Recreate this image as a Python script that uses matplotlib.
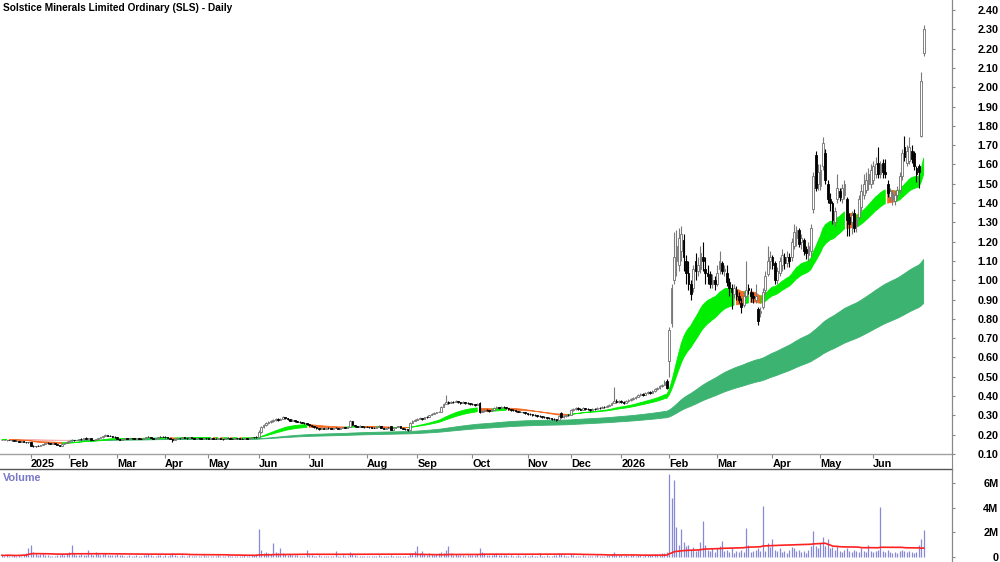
import numpy as np
import pandas as pd
import matplotlib
matplotlib.use("Agg")
import matplotlib.pyplot as plt
from matplotlib.lines import Line2D

# ── Data: one row per trading day (open, high, low, close, volume in millions) ──

dec24 = [
    (0.170, 0.175, 0.170, 0.175, 0.15), (0.175, 0.175, 0.170, 0.170, 0.10),
    (0.170, 0.175, 0.165, 0.175, 0.20), (0.175, 0.175, 0.170, 0.170, 0.12),
    (0.170, 0.170, 0.165, 0.170, 0.08), (0.170, 0.170, 0.165, 0.165, 0.15),
    (0.165, 0.170, 0.165, 0.165, 0.10), (0.165, 0.165, 0.160, 0.160, 0.18),
    (0.160, 0.165, 0.160, 0.165, 0.12), (0.165, 0.165, 0.160, 0.160, 0.20),
    (0.160, 0.160, 0.155, 0.160, 0.35), (0.160, 0.160, 0.155, 0.160, 0.70),
]
jan25 = [
    (0.160, 0.160, 0.140, 0.140, 1.00), (0.140, 0.145, 0.135, 0.140, 0.45),
    (0.140, 0.140, 0.135, 0.140, 0.30), (0.140, 0.145, 0.140, 0.140, 0.20),
    (0.140, 0.145, 0.140, 0.145, 0.25), (0.145, 0.150, 0.145, 0.150, 0.30),
    (0.150, 0.155, 0.150, 0.155, 0.15), (0.155, 0.160, 0.150, 0.155, 0.20),
    (0.155, 0.155, 0.150, 0.150, 0.10), (0.150, 0.155, 0.150, 0.155, 0.12),
    (0.155, 0.155, 0.150, 0.150, 0.08), (0.150, 0.150, 0.145, 0.145, 0.15),
    (0.145, 0.145, 0.140, 0.140, 0.20), (0.140, 0.150, 0.140, 0.150, 0.25),
    (0.150, 0.155, 0.150, 0.155, 0.18), (0.155, 0.165, 0.155, 0.160, 0.30),
]
feb25 = [
    (0.160, 0.165, 0.160, 0.165, 0.40), (0.165, 0.180, 0.165, 0.175, 1.00),
    (0.175, 0.175, 0.165, 0.170, 0.30), (0.170, 0.175, 0.170, 0.175, 0.20),
    (0.175, 0.180, 0.175, 0.180, 0.15), (0.180, 0.185, 0.175, 0.180, 0.25),
    (0.180, 0.185, 0.180, 0.185, 0.20), (0.185, 0.190, 0.180, 0.180, 0.15),
    (0.180, 0.185, 0.180, 0.185, 0.60), (0.185, 0.185, 0.175, 0.175, 0.25),
    (0.175, 0.175, 0.170, 0.170, 0.20), (0.170, 0.180, 0.170, 0.180, 0.40),
    (0.180, 0.185, 0.180, 0.185, 0.30), (0.185, 0.190, 0.185, 0.190, 0.20),
    (0.190, 0.195, 0.185, 0.195, 0.25), (0.195, 0.205, 0.195, 0.200, 0.30),
    (0.200, 0.200, 0.195, 0.195, 0.20), (0.195, 0.200, 0.195, 0.195, 0.15),
    (0.195, 0.195, 0.190, 0.190, 0.20), (0.190, 0.195, 0.185, 0.190, 0.15),
]
mar25 = [
    (0.190, 0.190, 0.180, 0.180, 0.25), (0.180, 0.180, 0.175, 0.175, 0.20),
    (0.175, 0.180, 0.175, 0.180, 0.15), (0.180, 0.185, 0.180, 0.185, 0.12),
    (0.185, 0.185, 0.180, 0.180, 0.10), (0.180, 0.185, 0.180, 0.185, 0.15),
    (0.185, 0.185, 0.180, 0.185, 0.10), (0.185, 0.185, 0.180, 0.180, 0.12),
    (0.180, 0.185, 0.180, 0.185, 0.20), (0.185, 0.185, 0.180, 0.180, 0.10),
    (0.180, 0.185, 0.180, 0.180, 0.12), (0.180, 0.185, 0.180, 0.185, 0.15),
    (0.185, 0.190, 0.185, 0.190, 0.20), (0.190, 0.195, 0.190, 0.190, 0.25),
    (0.190, 0.190, 0.185, 0.185, 0.15), (0.185, 0.185, 0.180, 0.180, 0.10),
    (0.180, 0.185, 0.180, 0.185, 0.12), (0.185, 0.190, 0.185, 0.190, 0.20),
    (0.190, 0.195, 0.190, 0.190, 0.15), (0.190, 0.195, 0.190, 0.190, 0.10),
]
apr25 = [
    (0.190, 0.195, 0.185, 0.190, 0.15), (0.190, 0.190, 0.185, 0.185, 0.12),
    (0.185, 0.185, 0.180, 0.180, 0.20), (0.180, 0.180, 0.160, 0.170, 0.30),
    (0.170, 0.180, 0.170, 0.180, 0.15), (0.180, 0.185, 0.180, 0.185, 0.12),
    (0.185, 0.185, 0.180, 0.185, 0.10), (0.185, 0.190, 0.185, 0.190, 0.15),
    (0.190, 0.190, 0.185, 0.185, 0.10), (0.185, 0.185, 0.180, 0.185, 0.12),
    (0.185, 0.190, 0.185, 0.190, 0.15), (0.190, 0.190, 0.185, 0.185, 0.10),
    (0.185, 0.185, 0.180, 0.180, 0.08), (0.180, 0.185, 0.180, 0.185, 0.10),
    (0.185, 0.185, 0.180, 0.185, 0.12), (0.185, 0.185, 0.180, 0.180, 0.10),
    (0.180, 0.185, 0.180, 0.185, 0.15), (0.185, 0.185, 0.180, 0.185, 0.08),
]
may25 = [
    (0.185, 0.185, 0.180, 0.180, 0.10), (0.180, 0.185, 0.180, 0.185, 0.08),
    (0.185, 0.185, 0.180, 0.180, 0.12), (0.180, 0.185, 0.180, 0.180, 0.10),
    (0.180, 0.185, 0.180, 0.185, 0.15), (0.185, 0.185, 0.180, 0.180, 0.08),
    (0.180, 0.180, 0.175, 0.180, 0.10), (0.180, 0.185, 0.180, 0.185, 0.12),
    (0.185, 0.190, 0.185, 0.185, 0.15), (0.185, 0.185, 0.180, 0.180, 0.10),
    (0.180, 0.185, 0.180, 0.180, 0.08), (0.180, 0.185, 0.180, 0.185, 0.10),
    (0.185, 0.185, 0.180, 0.185, 0.12), (0.185, 0.185, 0.180, 0.180, 0.08),
    (0.180, 0.185, 0.180, 0.180, 0.10), (0.180, 0.185, 0.180, 0.185, 0.15),
    (0.185, 0.185, 0.180, 0.180, 0.10), (0.180, 0.185, 0.180, 0.185, 0.12),
    (0.185, 0.190, 0.185, 0.190, 0.20), (0.190, 0.190, 0.185, 0.190, 0.15),
    (0.190, 0.195, 0.185, 0.190, 0.25),
]
jun25 = [
    (0.190, 0.225, 0.190, 0.215, 2.25), (0.215, 0.245, 0.210, 0.240, 0.60),
    (0.240, 0.255, 0.235, 0.250, 0.35), (0.250, 0.265, 0.245, 0.260, 0.40),
    (0.260, 0.270, 0.255, 0.265, 0.30), (0.265, 0.275, 0.260, 0.270, 0.25),
    (0.270, 0.280, 0.265, 0.275, 1.10), (0.275, 0.285, 0.270, 0.280, 0.40),
    (0.280, 0.285, 0.270, 0.275, 0.30), (0.275, 0.285, 0.275, 0.280, 0.70),
    (0.280, 0.295, 0.280, 0.290, 0.35), (0.290, 0.290, 0.280, 0.285, 0.25),
    (0.285, 0.285, 0.275, 0.280, 0.20), (0.280, 0.280, 0.270, 0.270, 0.25),
    (0.270, 0.280, 0.270, 0.275, 0.15), (0.275, 0.275, 0.265, 0.270, 0.20),
    (0.270, 0.270, 0.265, 0.265, 0.15), (0.265, 0.270, 0.260, 0.265, 0.10),
    (0.265, 0.265, 0.260, 0.260, 0.12), (0.260, 0.265, 0.255, 0.260, 0.10),
    (0.260, 0.260, 0.250, 0.255, 0.60),
]
jul25 = [
    (0.255, 0.255, 0.245, 0.250, 0.20), (0.250, 0.250, 0.240, 0.245, 0.15),
    (0.245, 0.245, 0.235, 0.240, 0.12), (0.240, 0.240, 0.230, 0.235, 0.10),
    (0.235, 0.235, 0.225, 0.230, 0.15), (0.230, 0.240, 0.230, 0.235, 0.10),
    (0.235, 0.235, 0.230, 0.230, 0.08), (0.230, 0.235, 0.230, 0.235, 0.10),
    (0.235, 0.240, 0.230, 0.235, 0.12), (0.235, 0.235, 0.230, 0.230, 0.08),
    (0.230, 0.235, 0.230, 0.235, 0.10), (0.235, 0.240, 0.235, 0.235, 0.50),
    (0.235, 0.235, 0.230, 0.230, 0.10), (0.230, 0.235, 0.230, 0.235, 0.12),
    (0.235, 0.240, 0.235, 0.240, 0.15), (0.240, 0.240, 0.235, 0.235, 0.10),
    (0.235, 0.240, 0.235, 0.240, 0.12), (0.240, 0.275, 0.240, 0.270, 0.45),
    (0.270, 0.270, 0.250, 0.250, 0.25), (0.250, 0.250, 0.240, 0.245, 0.15),
    (0.245, 0.245, 0.240, 0.240, 0.10), (0.240, 0.250, 0.240, 0.245, 0.12),
    (0.245, 0.245, 0.240, 0.240, 0.10), (0.240, 0.245, 0.235, 0.240, 0.08),
]
aug25 = [
    (0.240, 0.245, 0.240, 0.240, 0.10), (0.240, 0.240, 0.235, 0.240, 0.08),
    (0.240, 0.240, 0.235, 0.235, 0.12), (0.235, 0.240, 0.235, 0.235, 0.10),
    (0.235, 0.240, 0.235, 0.240, 0.08), (0.240, 0.250, 0.240, 0.245, 0.15),
    (0.245, 0.245, 0.235, 0.235, 0.10), (0.235, 0.235, 0.230, 0.230, 0.08),
    (0.230, 0.235, 0.230, 0.235, 0.10), (0.235, 0.240, 0.235, 0.235, 0.12),
    (0.245, 0.245, 0.225, 0.225, 0.20), (0.225, 0.235, 0.225, 0.235, 0.10),
    (0.235, 0.240, 0.235, 0.240, 0.08), (0.240, 0.245, 0.240, 0.245, 0.10),
    (0.245, 0.245, 0.235, 0.235, 0.08), (0.235, 0.235, 0.230, 0.230, 0.06),
    (0.230, 0.235, 0.225, 0.230, 0.10), (0.230, 0.230, 0.220, 0.225, 0.12),
    (0.225, 0.265, 0.225, 0.260, 0.35), (0.260, 0.275, 0.260, 0.270, 0.30),
    (0.270, 0.280, 0.270, 0.275, 0.50),
]
sep25 = [
    (0.275, 0.285, 0.275, 0.280, 0.90), (0.280, 0.290, 0.280, 0.285, 0.30),
    (0.285, 0.285, 0.275, 0.280, 0.50), (0.280, 0.290, 0.280, 0.290, 0.25),
    (0.290, 0.295, 0.285, 0.290, 0.20), (0.290, 0.300, 0.290, 0.300, 0.30),
    (0.300, 0.310, 0.300, 0.305, 0.25), (0.305, 0.315, 0.305, 0.310, 0.20),
    (0.310, 0.320, 0.310, 0.315, 0.25), (0.315, 0.325, 0.315, 0.320, 0.30),
    (0.320, 0.350, 0.320, 0.345, 0.40), (0.345, 0.365, 0.345, 0.360, 0.35),
    (0.360, 0.405, 0.360, 0.370, 0.60), (0.370, 0.375, 0.360, 0.365, 0.90),
    (0.365, 0.375, 0.365, 0.370, 0.30), (0.370, 0.375, 0.365, 0.370, 0.20),
    (0.370, 0.380, 0.370, 0.375, 0.25), (0.375, 0.375, 0.365, 0.370, 0.15),
    (0.370, 0.370, 0.360, 0.365, 0.20), (0.365, 0.375, 0.365, 0.370, 0.15),
    (0.370, 0.370, 0.360, 0.365, 0.12), (0.365, 0.370, 0.360, 0.365, 0.15),
    (0.365, 0.365, 0.355, 0.360, 0.20),
]
oct25 = [
    (0.360, 0.365, 0.355, 0.360, 0.15), (0.360, 0.360, 0.350, 0.355, 0.20),
    (0.355, 0.365, 0.355, 0.360, 0.25), (0.365, 0.370, 0.310, 0.320, 0.75),
    (0.320, 0.330, 0.315, 0.325, 0.40), (0.325, 0.335, 0.320, 0.330, 0.30),
    (0.330, 0.335, 0.325, 0.330, 0.20), (0.330, 0.330, 0.320, 0.325, 0.15),
    (0.325, 0.335, 0.325, 0.330, 0.20), (0.330, 0.345, 0.330, 0.340, 0.25),
    (0.340, 0.350, 0.340, 0.345, 0.30), (0.345, 0.345, 0.335, 0.340, 0.20),
    (0.340, 0.350, 0.340, 0.345, 0.15), (0.345, 0.350, 0.340, 0.345, 0.20),
    (0.345, 0.345, 0.335, 0.340, 0.15), (0.340, 0.340, 0.330, 0.335, 0.12),
    (0.335, 0.335, 0.325, 0.330, 0.15), (0.330, 0.335, 0.325, 0.330, 0.10),
    (0.330, 0.330, 0.320, 0.325, 0.12), (0.325, 0.325, 0.315, 0.320, 0.15),
    (0.320, 0.325, 0.315, 0.320, 0.10), (0.320, 0.320, 0.310, 0.315, 0.12),
    (0.315, 0.315, 0.305, 0.310, 0.15),
]
nov25 = [
    (0.310, 0.310, 0.300, 0.305, 0.12), (0.305, 0.310, 0.300, 0.305, 0.10),
    (0.305, 0.305, 0.295, 0.300, 0.15), (0.300, 0.305, 0.295, 0.300, 0.10),
    (0.300, 0.300, 0.290, 0.295, 0.12), (0.295, 0.300, 0.290, 0.295, 0.35),
    (0.295, 0.295, 0.285, 0.290, 0.10), (0.290, 0.295, 0.285, 0.290, 0.12),
    (0.290, 0.290, 0.280, 0.285, 0.15), (0.285, 0.290, 0.280, 0.285, 0.10),
    (0.285, 0.285, 0.275, 0.280, 0.12), (0.280, 0.285, 0.275, 0.280, 0.15),
    (0.280, 0.280, 0.270, 0.275, 0.20), (0.275, 0.300, 0.275, 0.295, 0.30),
    (0.310, 0.315, 0.285, 0.290, 0.25), (0.290, 0.300, 0.285, 0.295, 0.15),
    (0.295, 0.305, 0.290, 0.300, 0.12), (0.300, 0.305, 0.295, 0.300, 0.10),
]
dec25 = [
    (0.300, 0.335, 0.300, 0.330, 0.25), (0.330, 0.340, 0.325, 0.335, 0.15),
    (0.335, 0.345, 0.330, 0.340, 0.12), (0.340, 0.345, 0.330, 0.335, 0.10),
    (0.335, 0.340, 0.330, 0.330, 0.12), (0.330, 0.345, 0.330, 0.340, 0.15),
    (0.340, 0.340, 0.330, 0.335, 0.10), (0.335, 0.340, 0.330, 0.335, 0.08),
    (0.335, 0.335, 0.325, 0.330, 0.10), (0.330, 0.340, 0.330, 0.335, 0.12),
    (0.335, 0.340, 0.330, 0.335, 0.10), (0.335, 0.345, 0.335, 0.340, 0.15),
    (0.340, 0.345, 0.335, 0.340, 0.10), (0.340, 0.350, 0.340, 0.345, 0.12),
    (0.345, 0.350, 0.340, 0.345, 0.10), (0.345, 0.355, 0.345, 0.350, 0.15),
    (0.350, 0.360, 0.350, 0.355, 0.20), (0.355, 0.370, 0.355, 0.365, 0.25),
    (0.365, 0.445, 0.365, 0.375, 0.40), (0.375, 0.385, 0.365, 0.370, 0.20),
    (0.370, 0.380, 0.365, 0.375, 0.15),
]
jan26 = [
    (0.375, 0.380, 0.365, 0.370, 0.15), (0.370, 0.375, 0.360, 0.365, 0.12),
    (0.365, 0.380, 0.365, 0.375, 0.15), (0.375, 0.385, 0.370, 0.380, 0.12),
    (0.380, 0.390, 0.375, 0.385, 0.15), (0.385, 0.395, 0.380, 0.390, 0.20),
    (0.390, 0.400, 0.385, 0.395, 0.12), (0.395, 0.410, 0.395, 0.405, 0.15),
    (0.405, 0.415, 0.400, 0.410, 0.20), (0.410, 0.415, 0.400, 0.405, 0.12),
    (0.405, 0.420, 0.405, 0.415, 0.15), (0.415, 0.425, 0.410, 0.420, 0.20),
    (0.420, 0.425, 0.410, 0.415, 0.15), (0.415, 0.430, 0.415, 0.425, 0.18),
    (0.425, 0.440, 0.420, 0.435, 0.25), (0.435, 0.445, 0.430, 0.440, 0.20),
    (0.440, 0.455, 0.435, 0.450, 0.25), (0.450, 0.465, 0.445, 0.460, 0.30),
    (0.460, 0.485, 0.455, 0.475, 0.35), (0.480, 0.490, 0.435, 0.440, 0.40),
]
feb26 = [
    (0.580, 0.760, 0.500, 0.740, 6.70), (0.780, 0.980, 0.760, 0.960, 4.80),
    (1.000, 1.250, 0.980, 1.120, 6.20), (1.100, 1.260, 1.020, 1.180, 2.40),
    (1.080, 1.270, 1.050, 1.220, 1.00), (1.150, 1.280, 1.100, 1.240, 2.30),
    (1.210, 1.240, 1.050, 1.120, 1.20), (1.100, 1.130, 0.980, 1.040, 0.90),
    (1.040, 1.100, 0.950, 0.980, 1.00), (0.980, 1.000, 0.900, 0.930, 0.60),
    (0.960, 1.080, 0.940, 1.060, 0.80), (1.100, 1.140, 1.000, 1.050, 0.50),
    (1.050, 1.120, 1.020, 1.080, 0.60), (1.060, 1.180, 1.040, 1.140, 1.20),
    (1.120, 1.200, 1.050, 1.100, 2.90), (1.060, 1.120, 0.980, 1.040, 1.00),
    (1.040, 1.080, 0.980, 1.020, 0.60), (1.030, 1.050, 0.960, 0.980, 0.50),
    (0.980, 1.030, 0.960, 1.000, 0.70), (1.000, 1.020, 0.950, 0.980, 0.40),
]
mar26 = [
    (0.980, 1.080, 0.970, 1.040, 0.70), (1.060, 1.150, 1.030, 1.100, 0.90),
    (1.090, 1.100, 1.030, 1.050, 1.30), (1.050, 1.080, 1.020, 1.060, 0.50),
    (1.040, 1.080, 0.970, 0.990, 0.60), (0.990, 1.010, 0.920, 0.960, 0.40),
    (0.960, 0.980, 0.850, 0.940, 0.70), (0.930, 0.980, 0.910, 0.960, 0.30),
    (0.950, 0.970, 0.900, 0.920, 0.50), (0.920, 0.940, 0.880, 0.900, 0.40),
    (0.880, 0.910, 0.830, 0.860, 0.60), (0.870, 0.940, 0.860, 0.920, 0.45),
    (0.920, 1.100, 0.910, 0.950, 2.35), (0.960, 0.980, 0.930, 0.950, 1.00),
    (0.940, 0.960, 0.890, 0.920, 0.40), (0.920, 0.940, 0.880, 0.910, 0.50),
    (0.900, 0.980, 0.880, 0.920, 0.60), (0.850, 0.860, 0.770, 0.790, 0.70),
    (0.830, 0.860, 0.810, 0.840, 0.50), (0.860, 0.960, 0.850, 0.940, 4.10),
    (0.950, 1.050, 0.930, 1.020, 0.50), (1.030, 1.180, 1.020, 1.100, 1.10),
    (1.100, 1.150, 1.060, 1.120, 0.80),
]
apr26 = [
    (1.120, 1.130, 1.060, 1.080, 1.45), (1.090, 1.100, 0.980, 1.000, 0.60),
    (1.000, 1.070, 0.980, 1.050, 0.50), (1.040, 1.120, 1.020, 1.100, 0.70),
    (1.080, 1.160, 1.050, 1.130, 0.40), (1.120, 1.140, 1.060, 1.090, 0.50),
    (1.090, 1.150, 1.070, 1.120, 0.30), (1.120, 1.140, 1.070, 1.100, 0.60),
    (1.120, 1.220, 1.100, 1.200, 0.80), (1.180, 1.290, 1.160, 1.250, 0.70),
    (1.220, 1.280, 1.180, 1.260, 0.50), (1.260, 1.270, 1.170, 1.190, 0.60),
    (1.200, 1.240, 1.160, 1.220, 0.40), (1.210, 1.220, 1.130, 1.150, 0.50),
    (1.160, 1.180, 1.110, 1.140, 0.30), (1.130, 1.200, 1.100, 1.180, 0.60),
    (1.150, 1.290, 1.120, 1.270, 0.90), (1.370, 1.560, 1.350, 1.540, 2.10),
    (1.650, 1.670, 1.460, 1.480, 0.90), (1.500, 1.600, 1.470, 1.560, 0.70),
]
may26 = [
    (1.490, 1.600, 1.470, 1.570, 1.10), (1.590, 1.740, 1.570, 1.710, 1.60),
    (1.660, 1.680, 1.500, 1.520, 0.90), (1.500, 1.520, 1.400, 1.420, 1.45),
    (1.420, 1.450, 1.360, 1.400, 0.70), (1.400, 1.410, 1.290, 1.310, 0.80),
    (1.300, 1.380, 1.280, 1.360, 0.60), (1.420, 1.550, 1.400, 1.480, 0.90),
    (1.460, 1.480, 1.410, 1.430, 0.50), (1.420, 1.500, 1.400, 1.480, 0.40),
    (1.440, 1.520, 1.420, 1.500, 0.60), (1.420, 1.430, 1.230, 1.310, 0.70),
    (1.330, 1.350, 1.230, 1.290, 0.50), (1.300, 1.360, 1.240, 1.340, 0.40),
    (1.350, 1.370, 1.250, 1.270, 0.60), (1.280, 1.330, 1.250, 1.310, 0.50),
    (1.330, 1.440, 1.310, 1.420, 0.40), (1.380, 1.500, 1.360, 1.460, 0.70),
    (1.440, 1.550, 1.420, 1.500, 0.50), (1.470, 1.560, 1.450, 1.520, 0.40),
    (1.500, 1.580, 1.470, 1.550, 1.00), (1.500, 1.600, 1.480, 1.570, 0.50),
]
jun26 = [
    (1.520, 1.620, 1.500, 1.590, 0.40), (1.550, 1.640, 1.530, 1.600, 0.50),
    (1.610, 1.690, 1.530, 1.550, 0.60), (1.550, 1.620, 1.530, 1.600, 4.05),
    (1.610, 1.630, 1.530, 1.560, 0.50), (1.560, 1.630, 1.530, 1.550, 0.40),
    (1.500, 1.520, 1.430, 1.450, 0.60), (1.430, 1.480, 1.410, 1.460, 0.40),
    (1.420, 1.470, 1.390, 1.450, 0.30), (1.410, 1.460, 1.390, 1.440, 0.40),
    (1.440, 1.490, 1.420, 1.470, 0.30), (1.470, 1.560, 1.450, 1.540, 0.50),
    (1.540, 1.680, 1.520, 1.660, 0.60), (1.690, 1.750, 1.620, 1.640, 0.50),
    (1.610, 1.700, 1.590, 1.670, 0.40), (1.620, 1.740, 1.600, 1.690, 0.50),
    (1.670, 1.700, 1.610, 1.630, 0.40), (1.660, 1.670, 1.570, 1.590, 0.30),
    (1.580, 1.590, 1.510, 1.550, 0.40), (1.590, 1.600, 1.480, 1.560, 1.00),
    (1.750, 2.080, 1.740, 2.030, 1.45), (2.180, 2.320, 2.160, 2.300, 2.20),
]

months = [dec24, jan25, feb25, mar25, apr25, may25, jun25, jul25, aug25,
          sep25, oct25, nov25, dec25, jan26, feb26, mar26, apr26, may26, jun26]
month_labels = ["", "2025", "Feb", "Mar", "Apr", "May", "Jun", "Jul", "Aug",
                "Sep", "Oct", "Nov", "Dec", "2026", "Feb", "Mar", "Apr", "May", "Jun"]

price_ticks = [round(0.1 * k, 2) for k in range(1, 25)]
vol_ticks = [0, 2, 4, 6]
vol_tick_labels = ["0", "2M", "4M", "6M"]

TITLE = "Solstice Minerals Limited Ordinary (SLS) - Daily"

# ── Style ─────────────────────────────────────────────────────────────────────

plt.rcParams["font.family"] = ["Liberation Sans", "DejaVu Sans"]

SHORT_UP = "#00EE00"
SHORT_DN = "#F26B24"
LONG_UP  = "#3CB371"
LONG_DN  = "#F6B2B2"
VOL_COL  = "#8888D8"
VMA_COL  = "#FF2020"
AXIS_COL = "#888888"

W, H = 1000, 562

# ── Build series ──────────────────────────────────────────────────────────────

rows = [r for m in months for r in m]
o = np.array([r[0] for r in rows])
h = np.array([r[1] for r in rows])
l = np.array([r[2] for r in rows])
c = np.array([r[3] for r in rows])
v = np.array([r[4] for r in rows])
x = np.arange(len(rows))

close = pd.Series(c)
ema_fast = close.ewm(span=25, adjust=False).mean().values
ema_slow = close.ewm(span=40, adjust=False).mean().values
ema_lfast = close.ewm(span=150, adjust=False).mean().values
ema_lslow = close.ewm(span=250, adjust=False).mean().values
vol_ma = pd.Series(v).rolling(66, min_periods=1).mean().values

# band colour follows the direction of its faster average
short_rising = np.diff(ema_fast, prepend=ema_fast[0]) >= 0
long_rising = np.diff(ema_lfast, prepend=ema_lfast[0]) >= 0

starts = np.cumsum([0] + [len(m) for m in months[:-1]])

# ── Figure ────────────────────────────────────────────────────────────────────

fig = plt.figure(figsize=(W / 100, H / 100), dpi=100)
ax = fig.add_axes([0, (H - 454) / H, 952 / W, 454 / H])
axv = fig.add_axes([0, 0, 952 / W, 93 / H])

xlim = (-0.83, 395.8)


def band(lo, hi, rising, col_up, col_dn, z):
    # extend each mask by one step so neighbouring segments meet
    up_mask = rising | np.roll(rising, -1)
    dn_mask = ~rising | np.roll(~rising, -1)
    ax.fill_between(x, lo, hi, where=up_mask, color=col_up, lw=0.6, zorder=z)
    ax.fill_between(x, lo, hi, where=dn_mask & ~rising, color=col_dn, lw=0.6, zorder=z)


band(ema_lslow, ema_lfast, long_rising, LONG_UP, LONG_DN, 1)
band(ema_slow, ema_fast, short_rising, SHORT_UP, SHORT_DN, 2)

# candles
up = c > o
dn = ~up
ax.vlines(x[up], l[up], h[up], color="#7a7a7a", lw=0.8, zorder=3)
ax.vlines(x[dn], l[dn], h[dn], color="black", lw=0.8, zorder=3)
ax.bar(x[up], c[up] - o[up], bottom=o[up], width=0.7, facecolor="white",
       edgecolor="#6e6e6e", lw=0.6, zorder=4)
ax.bar(x[dn], c[dn] - o[dn], bottom=o[dn], width=0.7, facecolor="black",
       edgecolor="black", lw=0.6, zorder=4)

ax.set_xlim(*xlim)
ax.set_ylim(0.10, 2.452)
ax.yaxis.tick_right()
ax.set_yticks(price_ticks)
ax.set_yticklabels([f"{t:.2f}" for t in price_ticks])
ax.tick_params(axis="y", direction="out", length=2.5, width=0.8,
               color=AXIS_COL, pad=31, labelsize=7.8)
for lbl in ax.get_yticklabels():
    lbl.set_horizontalalignment("right")
    lbl.set_fontweight("bold")

ax.set_xticks(starts[1:])
ax.set_xticklabels(month_labels[1:])
ax.tick_params(axis="x", direction="out", length=3, width=0.8,
               color=AXIS_COL, pad=0.5, labelsize=7.8)
for lbl in ax.get_xticklabels():
    lbl.set_horizontalalignment("left")
    lbl.set_fontweight("bold")

for s in ("top", "left"):
    ax.spines[s].set_visible(False)
ax.spines["right"].set_color(AXIS_COL)
ax.spines["right"].set_linewidth(0.8)
ax.spines["bottom"].set_color("#a0a0a0")
ax.spines["bottom"].set_linewidth(1.0)

fig.text(3 / W, 1 - 8 / H, TITLE, fontsize=7.3, fontweight="bold",
         ha="left", va="center")

# volume panel
axv.vlines(x, 0, v, color=VOL_COL, lw=0.9)
axv.plot(x, vol_ma, color=VMA_COL, lw=1.2)
axv.set_xlim(*xlim)
axv.set_ylim(-0.4, 7.13)
axv.set_xticks([])
axv.yaxis.tick_right()
axv.set_yticks(vol_ticks)
axv.set_yticklabels(vol_tick_labels)
axv.tick_params(axis="y", direction="out", length=2.5, width=0.8,
                color=AXIS_COL, pad=31, labelsize=7.8)
for lbl in axv.get_yticklabels():
    lbl.set_horizontalalignment("right")
    lbl.set_fontweight("bold")
for s in ("bottom", "left"):
    axv.spines[s].set_visible(False)
axv.spines["top"].set_color("#555555")
axv.spines["top"].set_linewidth(1.0)
axv.spines["right"].set_color(AXIS_COL)
axv.spines["right"].set_linewidth(0.8)
axv.text(3 / 952, (H - 478) / 93, "Volume", transform=axv.transAxes,
         fontsize=7.8, fontweight="bold", color="#7878C8", ha="left", va="center")

# right axis line through the date strip
fig.add_artist(Line2D([952 / W, 952 / W], [0, 1], transform=fig.transFigure,
                      color=AXIS_COL, lw=0.8))

fig.savefig("out.png", dpi=100)
